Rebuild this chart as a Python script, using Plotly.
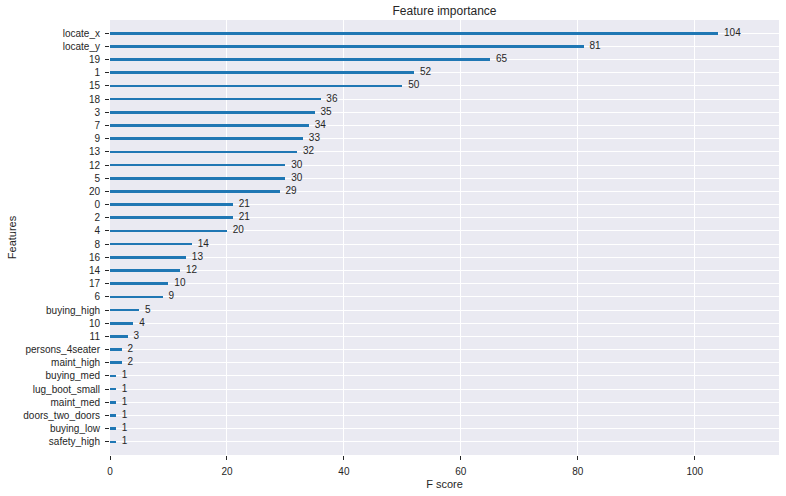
import plotly.graph_objects as go

features = ["safety_high", "buying_low", "doors_two_doors", "maint_med", "lug_boot_small",
            "buying_med", "maint_high", "persons_4seater", "11", "10", "buying_high",
            "6", "17", "14", "16", "8", "4", "2", "0", "20", "5", "12", "13", "9", "7",
            "3", "18", "15", "1", "19", "locate_y", "locate_x"]
scores = [1, 1, 1, 1, 1, 1, 2, 2, 3, 4, 5, 9, 10, 12, 13, 14, 20, 21, 21, 29, 30, 30,
          32, 33, 34, 35, 36, 50, 52, 65, 81, 104]

font = "Liberation Sans, Arial, sans-serif"
txtcol = "#262626"

fig = go.Figure()
fig.add_trace(go.Bar(
    x=scores, y=features, orientation="h", width=0.2,
    marker=dict(color="#1f77b4", line=dict(width=0)),
    hoverinfo="x+y",
))
fig.add_trace(go.Scatter(
    x=[s + 1 for s in scores], y=features, mode="text",
    text=[str(s) for s in scores], textposition="middle right",
    textfont=dict(family=font, size=10, color=txtcol),
    hoverinfo="skip", cliponaxis=False,
))

fig.update_layout(
    width=786, height=496,
    margin=dict(l=110, r=7, t=20, b=41, autoexpand=False),
    paper_bgcolor="white", plot_bgcolor="#EAEAF2",
    showlegend=False,
    font=dict(family=font, size=10, color=txtcol),
    title=dict(text="Feature importance", x=(110 + 779) / 2 / 786, xanchor="center",
               y=1 - 11 / 496, yanchor="middle", font=dict(size=12, color=txtcol)),
    bargap=0,
)
fig.update_xaxes(
    range=[0, 114.4], tickvals=[0, 20, 40, 60, 80, 100],
    showgrid=True, gridcolor="white", gridwidth=1, zeroline=False,
    ticks="outside", ticklen=4, tickcolor=txtcol, tickwidth=1,
    ticklabelstandoff=3, automargin=False,
    title=dict(text="F score", font=dict(size=11, color=txtcol), standoff=4),
    showline=False,
)
fig.update_yaxes(
    type="category", categoryorder="array", categoryarray=features,
    range=[-1, 32],
    showgrid=True, gridcolor="white", gridwidth=1, zeroline=False,
    ticks="outside", ticklen=4, tickcolor=txtcol, tickwidth=1,
    ticklabelstandoff=3, automargin=False,
    title=dict(text="Features", font=dict(size=11, color=txtcol), standoff=4),
    showline=False,
)

fig.write_html("out.html", config={"displayModeBar": False},
               post_script="document.body.style.margin='0';")
